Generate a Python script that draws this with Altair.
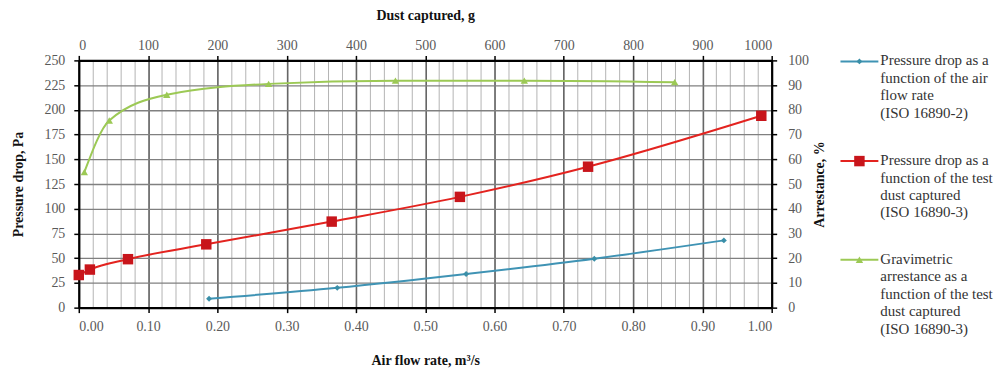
import altair as alt
import pandas as pd

# ---- data ----
air_flow = [0.188, 0.373, 0.559, 0.744, 0.931]          # m3/s
dp_air = [9.0, 20.0, 34.0, 49.5, 68.0]                  # Pa

dust_dp = [0, 16, 71, 184, 365, 550, 735, 985]          # g
dp_dust = [33.0, 38.5, 49.0, 64.0, 87.0, 112.0, 142.5, 194.0]  # Pa

dust_arr = [8, 44, 127, 274, 457, 643, 860]             # g
arrestance = [54.8, 75.7, 86.1, 90.5, 91.8, 91.8, 91.2]  # %

x_ticks = [round(i * 0.1, 2) for i in range(11)]
x_minor = [round(i * 0.02, 2) for i in range(51)]
top_ticks = list(range(0, 1001, 100))
left_ticks = list(range(0, 251, 25))
right_ticks = list(range(0, 101, 10))

series_names = [
    "Pressure drop as a\nfunction of the air\nflow rate\n(ISO 16890-2)",
    "Pressure drop as a\nfunction of the test\ndust captured\n(ISO 16890-3)",
    "Gravimetric\narrestance as a\nfunction of the test\ndust captured\n(ISO 16890-3)",
]
series_colors = ["#3F93B4", "#E3231F", "#9CC955"]
marker_colors = ["#3A8FA8", "#C8151B", "#9CC955"]
marker_shapes = ["diamond", "square", "triangle-up"]
marker_sizes = [35, 110, 55]

df_air = pd.DataFrame({"flow": air_flow, "dp": dp_air})
df_dust = pd.DataFrame({"dust": dust_dp, "dp": dp_dust})
df_arr = pd.DataFrame({"dust": dust_arr, "arr": arrestance})

W, H = 695, 248
FONT = "'Liberation Serif', 'Times New Roman', serif"
LBL = dict(labelFont=FONT, labelFontSize=14, labelColor="#595959",
           titleFont=FONT, titleFontSize=14, titleFontWeight="bold", titleColor="#111111")

x_bottom = alt.Scale(domain=[0, 1], nice=False, zero=False)
x_top = alt.Scale(domain=[0, 1000], nice=False, zero=False)
y_left = alt.Scale(domain=[0, 250], nice=False)
y_right = alt.Scale(domain=[0, 100], nice=False)

# minor vertical grid + horizontal grid
minor = alt.Chart(df_air).mark_point(opacity=0).encode(
    x=alt.X("flow:Q", scale=x_bottom,
            axis=alt.Axis(values=x_minor, grid=True, gridColor="#b4b4b4", gridWidth=1,
                          labels=False, ticks=False, domain=False, title=None, orient="bottom")),
    y=alt.Y("dp:Q", scale=y_left,
            axis=alt.Axis(values=left_ticks, grid=True, gridColor="#808080", gridWidth=1.3,
                          labels=False, ticks=False, domain=False, title=None, orient="left")),
)

# major vertical grid + top axis
major = alt.Chart(df_dust).mark_point(opacity=0).encode(
    x=alt.X("dust:Q", scale=x_top,
            axis=alt.Axis(values=top_ticks, format="d", grid=True, gridColor="#666666",
                          gridWidth=1.6, orient="top", title="Dust captured, g",
                          titlePadding=16, labelPadding=3, **LBL)),
    y=alt.Y("dp:Q", scale=y_left, axis=None),
)

blue_line = alt.Chart(df_air).mark_line(color=series_colors[0], strokeWidth=2,
                                        interpolate="monotone").encode(
    x=alt.X("flow:Q", scale=x_bottom,
            axis=alt.Axis(values=x_ticks, format=".2f", orient="bottom", grid=False,
                          title="Air flow rate, m\u00b3/s", titlePadding=20, labelPadding=7,
                          **LBL)),
    y=alt.Y("dp:Q", scale=y_left,
            axis=alt.Axis(values=left_ticks, orient="left", grid=False,
                          title="Pressure drop, Pa", titlePadding=18, labelPadding=9,
                          **LBL)),
)
blue_pts = alt.Chart(df_air).mark_point(shape=marker_shapes[0], filled=True, opacity=1,
                                        color=marker_colors[0], size=marker_sizes[0]).encode(
    x=alt.X("flow:Q", scale=x_bottom, axis=None),
    y=alt.Y("dp:Q", scale=y_left, axis=None),
)

red_line = alt.Chart(df_dust).mark_line(color=series_colors[1], strokeWidth=2,
                                        interpolate="monotone").encode(
    x=alt.X("dust:Q", scale=x_top, axis=None),
    y=alt.Y("dp:Q", scale=y_left, axis=None),
)
red_pts = alt.Chart(df_dust).mark_point(shape=marker_shapes[1], filled=True, opacity=1,
                                        color=marker_colors[1], size=marker_sizes[1]).encode(
    x=alt.X("dust:Q", scale=x_top, axis=None),
    y=alt.Y("dp:Q", scale=y_left, axis=None),
)

green_line = alt.Chart(df_arr).mark_line(color=series_colors[2], strokeWidth=2,
                                         interpolate="monotone").encode(
    x=alt.X("dust:Q", scale=x_top, axis=None),
    y=alt.Y("arr:Q", scale=y_right,
            axis=alt.Axis(values=right_ticks, orient="right", grid=False,
                          title="Arrestance, %", titleAngle=270, titleBaseline="top",
                          titlePadding=4, labelPadding=11, **LBL)),
)
green_pts = alt.Chart(df_arr).mark_point(shape=marker_shapes[2], filled=True, opacity=1,
                                         color=marker_colors[2], size=marker_sizes[2]).encode(
    x=alt.X("dust:Q", scale=x_top, axis=None),
    y=alt.Y("arr:Q", scale=y_right, axis=None),
)

# ---- manual legend (layout positions relative to the plot area) ----
legend_layers = []
leg_x0, leg_x1, leg_tx = 764, 802, 804
leg_y = [1, 101, 200]
one = alt.Data(values=[{}])
for i, name in enumerate(series_names):
    legend_layers.append(
        alt.Chart(one).mark_rule(color=series_colors[i], strokeWidth=2).encode(
            x=alt.value(leg_x0), x2=alt.value(leg_x1), y=alt.value(leg_y[i]))
    )
    legend_layers.append(
        alt.Chart(one).mark_point(shape=marker_shapes[i], filled=True, opacity=1,
                                  color=marker_colors[i], size=marker_sizes[i]).encode(
            x=alt.value((leg_x0 + leg_x1) / 2), y=alt.value(leg_y[i]))
    )
    legend_layers.append(
        alt.Chart(one).mark_text(align="left", baseline="top", font=FONT, fontSize=15,
                                 lineBreak="\n", lineHeight=17.5, color="#333333",
                                 text=name).encode(
            x=alt.value(leg_tx), y=alt.value(leg_y[i] - 8))
    )

chart = alt.layer(
    minor, major, blue_line, blue_pts, red_line, red_pts, green_line, green_pts,
    *legend_layers
).resolve_scale(x="independent", y="independent").properties(
    width=W, height=H,
    autosize=alt.AutoSizeParams(type="none"),
    padding={"left": 71, "top": 52, "right": 227, "bottom": 62},
).configure_view(stroke=None).configure_axis(
    labelFont=FONT, labelFontSize=14, labelColor="#595959",
    titleFont=FONT, titleFontSize=14, titleFontWeight="bold", titleColor="#111111",
    domainColor="#000000", domainWidth=2.2,
    tickColor="#000000", tickWidth=1.5, tickSize=5,
)

chart.save("out.html", embed_options={"renderer": "svg", "actions": False})
